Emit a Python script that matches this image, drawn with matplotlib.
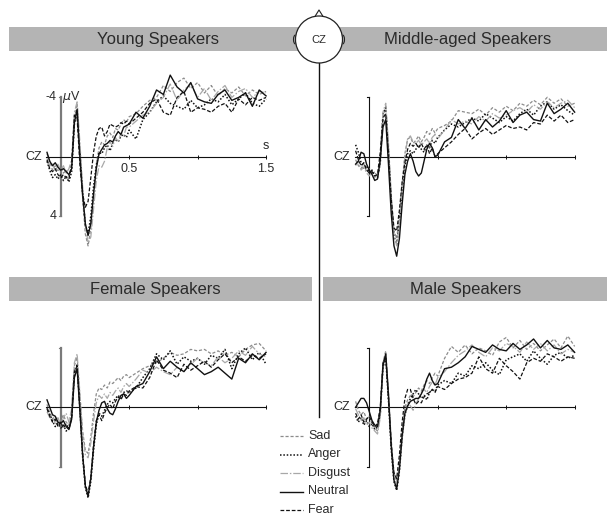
import numpy as np
import matplotlib
matplotlib.use("Agg")
import matplotlib.pyplot as plt
from matplotlib.patches import Rectangle, Circle, Arc

plt.rcParams['font.family'] = ['Liberation Sans', 'DejaVu Sans']

# ---------------- data ----------------
time_s = list(np.round(np.arange(-0.10, 0.5001, 0.02), 3)) + list(np.round(np.arange(0.55, 1.5001, 0.05), 3))
emotions = ['Sad', 'Anger', 'Disgust', 'Neutral', 'Fear']
panel_titles = ['Young Speakers', 'Middle-aged Speakers', 'Female Speakers', 'Male Speakers']
tick_labels = {0.5: '0.5', 1.5: '1.5'}

# amplitudes in microvolts (negative plotted up)
young_sad = [-0.2, 0.3, 0.9, 0.6, 1.0, 0.7, 1.1, 0.9, 1.3, 0.6, -2.6, -3.6, -0.5, 2.8, 5.2, 6.0, 4.8, 2.6, 0.5, -0.6, -1.0, -0.8, -1.4, -1.6, -1.3, -1.9, -1.8, -2.2, -2.5, -2.3, -2.7,
             -2.9, -3.4, -3.8, -4.0, -4.8, -4.4, -5.0, -5.3, -4.6, -5.0, -4.3, -4.8, -4.1, -4.6, -4.3, -4.7, -4.1, -4.5, -4.2, -4.4]
young_anger = [0.3, 0.9, 1.4, 1.2, 1.5, 1.2, 1.6, 1.3, 1.7, 1.0, -2.2, -3.1, -0.3, 2.4, 4.6, 5.2, 4.0, 2.0, 0.6, -0.3, -0.2, -0.6, -0.8, -0.4, -0.9, -1.2, -1.0, -1.4, -1.5, -1.3, -1.8,
               -1.2, -2.5, -3.0, -3.7, -4.1, -3.6, -3.4, -3.2, -3.8, -3.3, -3.5, -3.9, -3.7, -4.2, -3.5, -3.9, -4.3, -3.6, -3.4, -3.9]
young_disgust = [0.1, 0.6, 0.4, 1.0, 0.5, 0.9, 0.6, 1.1, 0.8, 0.2, -3.0, -3.7, -1.0, 2.0, 4.6, 5.8, 5.4, 3.5, 1.6, 0.6, 0.7, 0.3, -0.6, -1.0, -0.7, -1.3, -1.0, -1.6, -1.4, -2.0, -2.0,
                 -2.4, -2.8, -3.0, -3.6, -4.0, -4.9, -3.8, -4.5, -4.9, -4.0, -4.6, -3.8, -4.4, -4.8, -4.0, -4.4, -4.6, -4.0, -4.4, -4.3]
young_neutral = [-0.3, 0.3, 0.6, 0.4, 0.7, 0.9, 0.8, 1.0, 1.2, 0.8, -2.3, -3.2, 0.0, 2.5, 4.5, 5.3, 4.5, 2.5, 0.8, -0.2, -0.5, -0.8, -0.9, -1.1, -1.0, -1.4, -1.7, -1.5, -2.0, -2.1, -2.2,
                 -3.0, -2.6, -3.4, -4.5, -4.2, -5.5, -4.7, -4.3, -5.0, -3.9, -3.7, -3.6, -4.2, -4.5, -3.8, -4.0, -4.3, -3.4, -4.5, -4.1]
young_fear = [0.2, 0.8, 1.0, 0.8, 1.2, 1.4, 1.2, 1.4, 1.5, 0.5, -2.8, -2.6, 0.5, 2.5, 3.4, 3.0, 1.4, -0.3, -1.4, -1.9, -2.0, -1.4, -1.7, -2.2, -2.1, -2.0, -2.1, -2.3, -2.2, -2.4, -2.2,
              -2.6, -3.0, -3.6, -3.9, -3.0, -2.8, -4.0, -4.4, -3.0, -3.3, -3.2, -3.0, -3.4, -3.6, -3.0, -3.9, -3.5, -4.0, -3.8, -4.0]

middle_sad = [0.2, 0.6, 0.8, 0.5, 1.0, 0.8, 1.2, 1.0, 1.4, 0.5, -2.7, -3.4, -0.6, 2.8, 5.0, 5.5, 4.0, 1.8, -0.2, -1.2, -1.3, -0.9, -1.1, -1.4, -1.0, -1.3, -1.7, -1.5, -1.9, -1.6, -1.9,
              -2.1, -2.4, -3.1, -3.0, -2.9, -3.2, -2.8, -3.3, -3.0, -3.4, -3.1, -3.6, -3.4, -3.8, -3.5, -4.0, -3.6, -3.9, -3.4, -3.6]
middle_anger = [-0.8, -0.3, 0.4, 0.8, 0.6, 1.1, 0.9, 1.3, 1.4, 0.4, -2.9, -3.3, -0.4, 3.0, 5.3, 5.9, 4.4, 2.4, 0.6, -0.2, -0.4, -0.2, -0.5, -0.8, -0.5, -0.3, -0.8, -0.6, -1.1, -0.9, -1.3,
                -1.8, -2.2, -2.0, -2.3, -2.6, -2.4, -2.9, -2.6, -2.3, -2.7, -2.4, -2.9, -3.2, -2.8, -3.4, -3.7, -3.2, -3.5, -3.1, -2.8]
middle_disgust = [0.6, 0.3, 0.9, 0.7, 1.1, 1.3, 1.0, 1.4, 1.2, 0.2, -3.0, -3.6, -0.9, 2.5, 5.2, 6.0, 4.6, 2.2, 0.0, -1.2, -1.4, -1.0, -0.9, -1.1, -0.8, -1.0, -1.2, -0.9, -1.3, -1.5, -1.2,
                  -1.8, -2.5, -2.2, -2.4, -2.2, -2.7, -2.4, -2.9, -2.6, -2.8, -3.1, -3.3, -3.0, -3.5, -3.2, -3.7, -3.3, -3.6, -3.8, -3.3]
middle_neutral = [0.5, 0.3, -0.3, -0.2, 0.5, 0.9, 1.2, 1.6, 1.5, 0.2, -2.0, -2.5, 0.5, 3.8, 6.0, 6.7, 5.5, 3.2, 1.2, 0.3, -0.2, 0.3, 1.0, 1.3, 1.1, 0.3, -0.5, -0.9, -0.6, 0.0, -0.1,
                  -1.0, -1.3, -2.5, -1.9, -2.6, -1.8, -2.5, -2.0, -2.4, -3.1, -2.3, -2.8, -3.0, -2.5, -2.4, -3.6, -2.9, -3.2, -3.6, -3.0]
middle_fear = [-0.4, 0.2, 0.6, 0.4, 0.9, 1.1, 1.0, 1.3, 1.2, -0.3, -2.6, -2.9, -0.2, 2.8, 4.8, 5.0, 3.6, 1.7, 0.4, -0.5, -0.9, -0.7, -0.9, -0.6, -0.9, -0.5, -0.8, -0.2, -0.6, 0.0, -0.2,
               -0.6, -1.0, -1.5, -1.9, -1.2, -1.6, -1.9, -1.5, -1.8, -2.1, -1.9, -2.0, -1.8, -2.3, -2.2, -2.8, -2.4, -2.8, -2.3, -2.5]

female_sad = [-0.2, 0.4, 0.8, 0.6, 1.1, 0.9, 0.5, 1.0, 1.2, 0.3, -2.8, -3.4, -0.8, 1.6, 2.9, 3.1, 2.0, 0.4, -0.9, -1.3, -1.2, -1.5, -1.3, -1.7, -1.6, -1.8, -2.0, -1.8, -2.1, -2.2, -2.0,
              -2.3, -2.6, -2.8, -3.0, -3.3, -3.7, -3.5, -3.6, -3.9, -3.8, -3.9, -3.6, -3.8, -3.5, -3.7, -3.4, -3.9, -4.2, -4.3, -3.8]
female_anger = [0.0, 0.5, 0.9, 1.3, 1.1, 1.4, 1.2, 1.6, 1.4, 0.6, -2.2, -2.9, 0.0, 3.3, 5.4, 6.1, 5.0, 2.9, 1.2, 0.4, 0.6, 0.2, -0.2, -0.4, -0.3, -0.6, -0.8, -0.6, -1.0, -1.1, -1.0,
                -1.3, -2.0, -2.6, -3.6, -3.2, -3.8, -2.9, -3.4, -3.1, -3.3, -2.9, -3.5, -3.3, -3.9, -2.6, -3.6, -4.0, -3.2, -3.7, -2.9]
female_disgust = [0.3, 0.7, 0.5, 1.1, 0.7, 1.2, 0.7, 0.4, 1.0, 0.1, -3.0, -3.6, -1.0, 1.8, 3.2, 3.4, 2.4, 0.9, -0.3, -0.8, -0.6, -0.9, -0.6, -1.0, -0.8, -1.1, -1.3, -1.0, -1.4, -1.6, -1.4,
                  -1.9, -2.5, -2.3, -2.7, -2.4, -2.2, -2.7, -2.4, -2.9, -3.3, -3.0, -2.8, -3.4, -3.0, -3.3, -3.8, -3.5, -4.1, -3.6, -3.4]
female_neutral = [-0.5, 0.0, 0.5, 0.6, 1.0, 1.1, 0.9, 1.3, 1.5, 0.8, -2.0, -2.6, 0.2, 3.2, 5.3, 6.0, 4.8, 2.7, 1.0, 0.2, -0.3, -0.4, 0.1, 0.4, 0.5, 0.1, -0.4, -0.8, -0.9, -0.6, -0.8,
                  -1.4, -1.6, -2.4, -3.4, -2.6, -3.1, -2.7, -2.4, -3.0, -2.6, -2.2, -2.4, -2.7, -2.3, -1.9, -3.3, -3.0, -3.6, -3.2, -3.7]
female_fear = [0.1, 0.6, 1.0, 0.8, 1.3, 1.0, 1.4, 1.1, 1.5, 0.7, -2.4, -2.8, 0.0, 3.0, 5.2, 5.8, 4.7, 2.5, 0.9, 0.5, 0.9, 0.4, 0.0, -0.2, 0.1, -0.4, -0.7, -0.5, -0.9, -0.8, -1.1,
               -1.4, -1.3, -2.0, -3.2, -2.5, -2.3, -2.0, -2.9, -2.5, -2.8, -3.1, -2.7, -3.2, -3.6, -3.0, -3.4, -3.1, -3.5, -3.3, -3.6]

male_sad = [-0.4, 0.2, 0.5, 0.3, 0.8, 0.6, 1.1, 1.4, 1.6, 0.6, -3.0, -3.8, -1.0, 2.2, 4.4, 5.0, 3.8, 1.6, 0.0, -0.5, -0.8, -0.7, -1.0, -1.3, -1.1, -1.5, -1.8, -1.6, -2.0, -2.3, -2.1,
            -3.3, -4.1, -3.7, -4.2, -3.6, -4.0, -3.8, -3.5, -4.4, -4.7, -4.0, -4.5, -3.9, -4.3, -3.8, -4.2, -4.6, -4.0, -4.8, -4.1]
male_anger = [0.6, 1.0, 0.7, 1.2, 0.9, 1.3, 1.1, 1.5, 1.3, 0.4, -2.7, -3.3, -0.5, 2.8, 5.0, 5.6, 4.3, 2.0, 0.5, -0.1, -0.6, -0.9, -1.2, -0.9, -0.6, -0.8, -0.5, -1.0, -1.2, -1.1, -1.5,
              -1.8, -1.6, -2.3, -2.1, -2.8, -2.6, -3.0, -2.5, -2.2, -3.2, -3.4, -3.6, -3.1, -3.8, -3.3, -2.9, -3.5, -3.7, -3.3, -3.5]
male_disgust = [0.1, 0.5, 0.9, 0.7, 1.2, 1.0, 1.4, 1.6, 1.8, 0.7, -2.9, -3.7, -1.0, 2.3, 4.6, 5.2, 4.1, 2.1, 0.6, -0.3, -0.1, 0.2, -0.2, -0.6, -1.0, -1.2, -1.0, -1.4, -1.7, -1.5, -2.0,
                -2.4, -3.0, -3.5, -3.8, -4.2, -3.7, -3.4, -4.0, -3.8, -4.3, -4.1, -3.7, -4.4, -3.9, -4.3, -3.8, -4.2, -3.6, -3.9, -3.7]
male_neutral = [0.0, -0.3, -0.6, -0.6, -0.3, 0.3, 0.9, 1.2, 1.3, 0.2, -2.8, -3.6, -0.8, 2.6, 4.9, 5.5, 4.2, 1.9, 0.4, -0.1, -0.4, -0.5, -0.6, -0.6, -0.9, -1.3, -1.9, -2.3, -1.8, -1.5, -1.6,
                -2.6, -2.7, -3.0, -3.4, -4.1, -3.9, -3.7, -4.2, -3.9, -3.8, -4.3, -3.9, -4.2, -4.6, -4.0, -4.5, -4.0, -3.9, -4.2, -3.7]
male_fear = [0.4, 0.8, 0.5, 1.0, 0.8, 0.6, 1.0, 1.3, 1.1, 0.0, -3.0, -3.4, -0.6, 2.5, 4.4, 4.8, 3.2, 1.0, -0.6, -1.2, -1.2, -0.6, -0.2, -0.4, -0.3, -0.7, -0.9, -1.0, -1.2, -1.0, -1.4,
             -1.2, -1.6, -1.9, -2.0, -2.3, -3.4, -2.6, -2.3, -3.3, -2.8, -2.4, -1.9, -3.0, -3.3, -3.1, -3.6, -3.4, -3.1, -3.4, -3.3]

panel_data = [
    [young_sad, young_anger, young_disgust, young_neutral, young_fear],
    [middle_sad, middle_anger, middle_disgust, middle_neutral, middle_fear],
    [female_sad, female_anger, female_disgust, female_neutral, female_fear],
    [male_sad, male_anger, male_disgust, male_neutral, male_fear],
]
for pd_ in panel_data:
    for s in pd_:
        assert len(s) == len(time_s), (len(s), len(time_s))

# ---------------- styles ----------------
styles = {
    'Sad': dict(color='#8c8c8c', lw=0.9, ls=(0, (2.5, 1.5))),
    'Anger': dict(color='#111111', lw=1.1, ls=(0, (1, 1.2))),
    'Disgust': dict(color='#a8a8a8', lw=0.9, ls=(0, (6, 1.5, 1.2, 1.5))),
    'Neutral': dict(color='#111111', lw=1.0, ls='-'),
    'Fear': dict(color='#111111', lw=0.9, ls=(0, (3, 1.5))),
}

W, H = 607, 520
fig = plt.figure(figsize=(W / 100, H / 100), dpi=100)

# overlay axes in pixel coordinates
ov = fig.add_axes([0, 0, 1, 1])
ov.set_xlim(0, W)
ov.set_ylim(H, 0)
ov.axis('off')

bar_color = '#b4b4b4'
txt_color = '#2a2a2a'
bars = [(9, 27, 303, 24), (323, 27, 284, 24), (9, 277, 303, 24), (323, 277, 284, 24)]
title_pos = [(158, 39.5), (468, 39.5), (155, 289.5), (466, 289.5)]
for (bx, by, bw, bh), title, (tx, ty) in zip(bars, panel_titles, title_pos):
    ov.add_patch(Rectangle((bx, by), bw, bh, facecolor=bar_color, edgecolor='none', zorder=1))
    ov.text(tx, ty, title, ha='center', va='center', fontsize=12, color=txt_color, zorder=2)

# centre divider
ov.plot([319, 319], [62, 417], color='#111111', lw=1.0, zorder=1)

# head icon
ov.add_patch(Circle((319, 39.5), 23.5, facecolor='white', edgecolor='#222222', lw=0.9, zorder=5))
ov.plot([314.5, 319, 323.5], [17.2, 10, 17.2], color='#222222', lw=0.8, zorder=4)
ov.add_patch(Arc((295.5, 39.5), 4, 9, theta1=90, theta2=270, color='#222222', lw=0.8, zorder=4))
ov.add_patch(Arc((342.5, 39.5), 4, 9, theta1=-90, theta2=90, color='#222222', lw=0.8, zorder=4))
ov.text(319, 40, 'CZ', ha='center', va='center', fontsize=8, color=txt_color, zorder=6)

# legend
leg_y = [436, 454.5, 473, 491.5, 510]
for name, ly in zip(emotions, leg_y):
    st = styles[name]
    ov.plot([280, 303], [ly, ly], color=st['color'], lw=st['lw'], ls=st['ls'])
    ov.text(308, ly, name, ha='left', va='center', fontsize=9, color=txt_color)

# ---------------- ERP panels ----------------
px_s = 136.9
px_uv = 14.85
t_lo, t_hi = -0.2, 1.6
v_top, v_bot = -7.0, 8.0
origins = [(60.7, 156.8), (369.3, 156.7), (60.7, 407.3), (369.3, 407.3)]
yaxis_style = [('#7a7a7a', 1.6), ('#111111', 0.8), ('#7a7a7a', 1.6), ('#111111', 0.8)]

for i, ((x0, y0), series) in enumerate(zip(origins, panel_data)):
    left = x0 + t_lo * px_s
    right = x0 + t_hi * px_s
    top = y0 + v_top * px_uv
    bottom = y0 + v_bot * px_uv
    ax = fig.add_axes([left / W, 1 - bottom / H, (right - left) / W, (bottom - top) / H])
    ax.set_xlim(t_lo, t_hi)
    ax.set_ylim(v_bot, v_top)
    ax.axis('off')
    ax.patch.set_alpha(0)

    ycol, ylw = yaxis_style[i]
    ax.plot([0, 0], [-4, 4], color=ycol, lw=ylw, zorder=1)
    ax.plot([-0.015, 0], [-4, -4], color=ycol, lw=0.8, zorder=1)
    ax.plot([-0.015, 0], [4, 4], color=ycol, lw=0.8, zorder=1)
    ax.plot([-0.105, 1.5], [0, 0], color='#111111', lw=0.8, zorder=1)
    ax.plot([0.5, 1.0, 1.5], [0, 0, 0], ls='none', marker='|', ms=3.5, mew=0.7, color='#111111')
    ax.text(-0.14, 0, 'CZ', ha='right', va='center', fontsize=9, color=txt_color)

    for name, vals in zip(emotions, series):
        st = styles[name]
        ax.plot(time_s, vals, color=st['color'], lw=st['lw'], ls=st['ls'], zorder=3)

    if i == 0:
        for tv, lab in tick_labels.items():
            ax.text(tv, 0.45, lab, ha='center', va='top', fontsize=9, color=txt_color)
        ax.text(1.5, -0.3, 's', ha='center', va='bottom', fontsize=9, color=txt_color)
        ax.text(-0.03, -4, '-4', ha='right', va='center', fontsize=9, color=txt_color)
        ax.text(0.01, -4.05, r'$\mu$V', ha='left', va='center', fontsize=9, color=txt_color)
        ax.text(-0.03, 4, '4', ha='right', va='center', fontsize=9, color=txt_color)

fig.savefig('out.png', dpi=100)
